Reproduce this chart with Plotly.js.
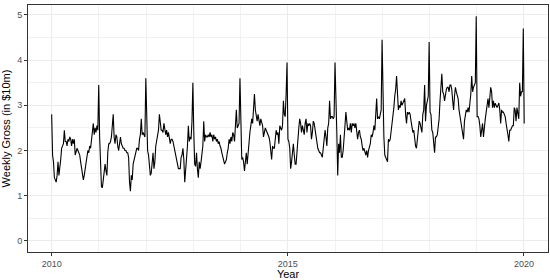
<!DOCTYPE html>
<html>
<head>
<meta charset="utf-8">
<script src="https://cdn.plot.ly/plotly-3.0.1.min.js"></script>
<style>
  body { margin: 0; background: #fff; }
  #myDiv { width: 550px; height: 280px; }
</style>
</head>
<body>
<div id="myDiv"></div>
<script>
// Recette hebdomadaire (en 10 M$), une liste par annee
var y2010 = [2.8,1.9,1.75,1.4,1.35,1.3,1.45,1.75,1.45,1.6,1.8,2.05,2.1,2.15,2.45,2.2,2.2,2.1,2.25,2.2,2.3,2.25,2.1,2.25,2.15,2.25,1.9,2.0,2.05,2.0,1.95,1.9,1.75,1.6,1.55,1.35,1.45,1.6,1.7,1.95,2.0,1.95,2.1,2.05,2.2,2.35,2.6,2.35,2.5,2.4,2.55,2.45];
var y2011 = [3.45,2.3,1.4,1.2,1.18,1.35,1.55,1.7,1.55,1.45,1.95,2.15,2.15,2.2,2.3,2.5,2.8,2.3,2.15,2.35,2.3,2.1,2.0,2.15,2.3,2.15,2.1,2.05,2.05,2.0,2.0,1.95,1.95,1.85,1.3,1.1,1.45,1.35,1.7,1.8,1.85,2.0,2.05,2.05,2.0,2.25,2.35,2.7,2.35,2.4,2.35,2.3];
var y2012 = [3.6,2.4,2.0,1.9,1.7,1.45,1.5,1.75,1.95,1.6,1.75,2.1,2.2,2.3,2.45,2.8,2.6,2.45,2.45,2.4,2.6,2.5,2.35,2.45,2.3,2.4,2.3,2.15,2.25,2.25,2.2,2.1,2.0,1.95,1.85,1.7,1.6,1.6,1.6,1.85,1.9,2.05,1.8,1.3,1.55,1.8,2.1,2.55,2.2,2.3,2.25,2.65];
var y2013 = [3.5,2.4,1.7,1.65,1.95,1.6,1.4,1.75,1.6,1.75,1.9,2.1,2.65,2.2,2.35,2.3,2.3,2.35,2.3,2.4,2.3,2.35,2.2,2.35,2.25,2.3,2.2,2.25,2.15,2.2,2.1,2.05,1.95,1.85,1.75,1.7,1.75,1.8,1.95,2.05,2.25,2.15,2.3,2.2,2.4,2.35,2.2,2.45,2.9,2.5,2.55,2.6];
var y2014 = [3.6,2.5,1.8,1.85,1.75,1.55,1.7,1.95,1.7,2.0,2.1,2.4,2.55,2.7,2.6,2.85,3.25,2.9,2.75,2.65,2.8,2.7,2.55,2.7,2.6,2.55,2.3,2.4,2.5,2.45,2.4,2.35,2.3,2.2,2.05,1.8,2.1,2.05,2.05,2.2,2.45,2.35,2.4,2.15,2.55,2.5,2.45,2.55,3.1,2.8,2.75,3.25];
var y2015 = [3.95,2.25,2.2,2.05,1.6,1.75,1.95,2.15,1.9,1.7,1.7,2.05,2.3,2.5,2.7,2.6,2.4,2.55,2.45,2.35,2.6,2.7,2.4,2.6,2.55,2.6,2.55,2.25,2.4,2.65,2.6,2.45,2.3,2.15,2.05,2.0,1.95,1.95,1.9,1.85,2.05,2.25,2.45,2.3,2.1,2.5,2.6,3.1,2.7,2.75,2.75,2.7];
var y2016 = [2.75,3.95,2.8,2.4,1.45,2.15,1.95,2.35,1.85,1.85,2.0,2.2,2.55,2.85,2.6,2.45,2.5,2.45,2.6,2.4,2.6,2.55,2.6,2.5,2.6,2.45,2.25,2.4,2.45,2.3,2.25,2.1,2.0,2.05,1.95,1.9,2.0,1.85,2.0,2.1,2.15,2.35,2.3,2.4,2.55,2.45,2.75,3.15,2.7,2.75,2.7,2.8];
var y2017 = [2.9,4.45,2.65,2.3,1.9,1.85,1.8,1.75,2.25,2.2,2.25,2.4,2.65,2.8,2.95,3.2,3.35,3.65,3.2,2.9,3.0,2.95,3.1,3.0,3.05,3.1,3.15,2.8,2.6,2.85,2.8,2.85,2.8,2.65,2.5,2.4,2.45,2.25,2.1,2.05,2.3,2.5,2.65,2.6,2.5,2.4,2.8,2.9,3.45,2.65,3.0,3.1];
var y2018 = [3.2,4.4,2.85,2.8,2.45,2.4,2.1,1.95,2.3,2.3,2.35,2.5,2.7,3.1,3.5,3.7,3.3,3.25,3.1,3.3,3.35,3.4,3.4,3.3,3.45,3.45,3.35,3.1,2.9,3.2,3.4,3.3,3.2,3.15,2.9,2.75,2.6,2.5,2.4,2.25,2.65,2.8,2.9,2.85,2.95,2.85,3.0,3.25,3.65,3.3,3.4,3.45];
var y2019 = [3.5,4.97,2.75,2.75,2.7,2.55,2.3,2.45,2.6,2.3,2.6,2.7,2.85,3.0,3.15,2.95,3.25,3.4,3.3,2.95,3.1,2.95,3.05,3.0,2.95,3.0,3.05,2.9,2.6,2.9,2.85,2.85,2.8,2.75,2.6,2.4,2.35,2.2,2.45,2.45,2.5,2.55,2.55,2.95,2.9,2.65,2.95,2.8,2.7,3.5,3.2,3.3];
var y2020 = [3.3,4.7,2.6];

var gross = [].concat(y2010, y2011, y2012, y2013, y2014, y2015, y2016, y2017, y2018, y2019, y2020);

// une date par semaine, a partir du 1er janvier 2010
var weeks = [];
var start = Date.UTC(2010, 0, 1);
for (let index = 0; index < gross.length; index++) {
  weeks.push(new Date(start + index * 7 * 86400000).toISOString().slice(0, 10));
}

var yearTicks = ['2010-01-01', '2015-01-01', '2020-01-01'];
var yearLabels = ['2010', '2015', '2020'];
var grossTicks = [0, 1, 2, 3, 4, 5];

var dataGross = [{
  x: weeks,
  y: gross,
  type: 'scatter',
  mode: 'lines',
  line: {color: '#000000', width: 1.1},
  hoverinfo: 'skip'
}];

var layoutGross = {
  width: 550,
  height: 280,
  margin: {l: 28, r: 2, t: 5, b: 28},
  paper_bgcolor: '#ffffff',
  plot_bgcolor: '#ffffff',
  showlegend: false,
  font: {family: 'Liberation Sans, Arial, sans-serif', size: 9, color: '#4d4d4d'},
  xaxis: {
    type: 'date',
    range: ['2009-07-02', '2020-07-05'],
    tickvals: yearTicks,
    ticktext: yearLabels,
    ticks: 'outside',
    ticklen: 3,
    tickwidth: 1,
    tickcolor: '#333333',
    showgrid: true,
    gridcolor: '#ebebeb',
    gridwidth: 1,
    minor: {dtick: 'M12', tick0: '2010-01-01', showgrid: true, gridcolor: '#f2f2f2', gridwidth: 1, ticks: ''},
    showline: true,
    mirror: true,
    linecolor: '#333333',
    linewidth: 1,
    zeroline: false,
    title: {text: 'Year', font: {size: 11, color: '#000000'}, standoff: 2}
  },
  yaxis: {
    range: [-0.245, 5.22],
    tickvals: grossTicks,
    ticks: 'outside',
    ticklen: 3,
    tickwidth: 1,
    tickcolor: '#333333',
    showgrid: true,
    gridcolor: '#ebebeb',
    gridwidth: 1,
    minor: {dtick: 0.5, tick0: 0.5, showgrid: true, gridcolor: '#f2f2f2', gridwidth: 1, ticks: ''},
    showline: true,
    mirror: true,
    linecolor: '#333333',
    linewidth: 1,
    zeroline: false,
    title: {text: 'Weekly Gross (in $10m)', font: {size: 11, color: '#000000'}, standoff: 4}
  }
};

Plotly.newPlot('myDiv', dataGross, layoutGross, {displayModeBar: false, staticPlot: true});
</script>
</body>
</html>
